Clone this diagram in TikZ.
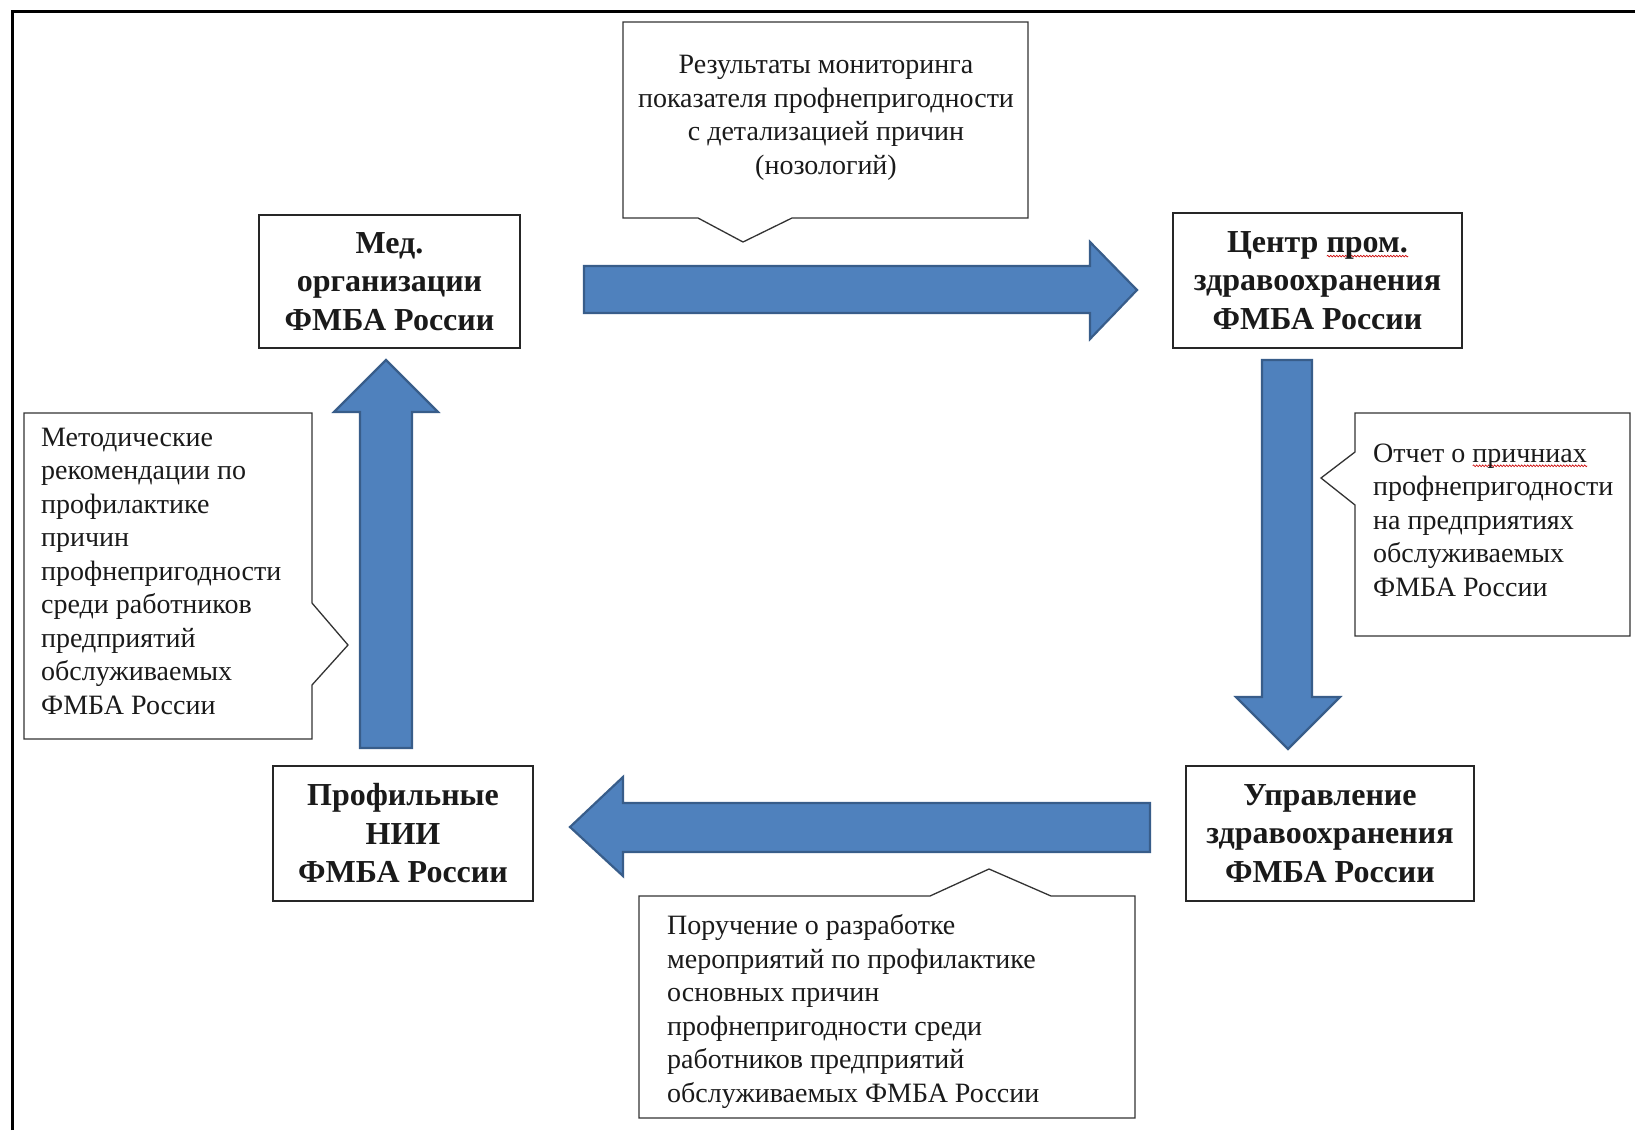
\documentclass[tikz,border=0pt]{standalone}
\usepackage{fontspec}
\setmainfont{Liberation Serif}
\usetikzlibrary{decorations.pathmorphing}
\definecolor{arrfill}{HTML}{4F81BD}
\definecolor{arrline}{HTML}{385D8A}
\definecolor{txt}{HTML}{1A1A1A}
\newsavebox\wavybox
\newcommand\wavy[1]{\sbox\wavybox{#1}\rlap{\raisebox{-5pt}[0pt][0pt]{\tikz\draw[draw=red!80!black, line width=0.6pt, decorate, decoration={snake, amplitude=0.9pt, segment length=3pt}] (0,0) -- (\wd\wavybox,0);}}\usebox\wavybox}
\begin{document}
\begin{tikzpicture}[x=1pt,y=-1pt,
  box/.style={draw=black!85, line width=1.4pt, fill=white, align=center, text=txt,
    font=\fontsize{32}{38.5}\selectfont\bfseries, inner sep=0pt},
  callout/.style={draw=black!80, line width=1.3pt, fill=white, line join=miter},
  ctext/.style={font=\fontsize{28}{33.5}\selectfont, inner sep=0pt, text=txt},
  barrow/.style={fill=arrfill, draw=arrline, line width=2.2pt, line join=miter}]
\useasboundingbox (0,0) rectangle (1635,1130);
\fill[white] (0,0) rectangle (1635,1130);
\draw[line width=3pt] (12,1130) -- (12,11) -- (1635,11);

% main boxes
\node[box, minimum width=261pt, minimum height=133pt] (med) at (389.5,281.5)
  {Мед.\\организации\\ФМБА России};
\node[box, minimum width=289pt, minimum height=135pt] (centr) at (1317.5,280.5)
  {Центр \wavy{пром.}\\здравоохранения\\ФМБА России};
\node[box, minimum width=260pt, minimum height=135pt] (nii) at (403,833.5)
  {Профильные\\НИИ\\ФМБА России};
\node[box, minimum width=288pt, minimum height=135pt] (upr) at (1330,833.5)
  {Управление\\здравоохранения\\ФМБА России};

% block arrows
\draw[barrow] (584,266) -- (1090,266) -- (1090,242) -- (1137,290) -- (1090,339)
  -- (1090,313) -- (584,313) -- cycle;
\draw[barrow] (1262,360) -- (1312,360) -- (1312,697) -- (1340,697) -- (1288,749)
  -- (1236,697) -- (1262,697) -- cycle;
\draw[barrow] (1150,803) -- (623,803) -- (623,777) -- (570,827) -- (623,876)
  -- (623,852) -- (1150,852) -- cycle;
\draw[barrow] (360,748) -- (360,412) -- (334,412) -- (386,360) -- (438,412)
  -- (412,412) -- (412,748) -- cycle;

% callouts
\draw[callout] (623,22) -- (1028,22) -- (1028,218) -- (792,218) -- (743,242)
  -- (698,218) -- (623,218) -- cycle;
\node[ctext, align=center, anchor=base] (t1) at (826,174)
  {Результаты мониторинга\\показателя профнепригодности\\с детализацией причин\\(нозологий)};

\draw[callout] (1355,413) -- (1630,413) -- (1630,636) -- (1355,636) -- (1355,505)
  -- (1321,478) -- (1355,452) -- cycle;
\node[ctext, align=left, anchor=base west] (t2) at (1373,596)
  {Отчет о \wavy{причниах}\\профнепригодности\\на предприятиях\\обслуживаемых\\ФМБА России};

\draw[callout] (24,413) -- (312,413) -- (312,603) -- (348,645) -- (312,685)
  -- (312,739) -- (24,739) -- cycle;
\node[ctext, align=left, anchor=base west] (t3) at (41,714)
  {Методические\\рекомендации по\\профилактике\\причин\\профнепригодности\\среди работников\\предприятий\\обслуживаемых\\ФМБА России};

\draw[callout] (639,896) -- (930,896) -- (989,869) -- (1051,896) -- (1135,896)
  -- (1135,1118) -- (639,1118) -- cycle;
\node[ctext, align=left, anchor=base west] (t4) at (667,1102)
  {Поручение о разработке\\мероприятий по профилактике\\основных причин\\профнепригодности среди\\работников предприятий\\обслуживаемых ФМБА России};
\end{tikzpicture}
\end{document}
